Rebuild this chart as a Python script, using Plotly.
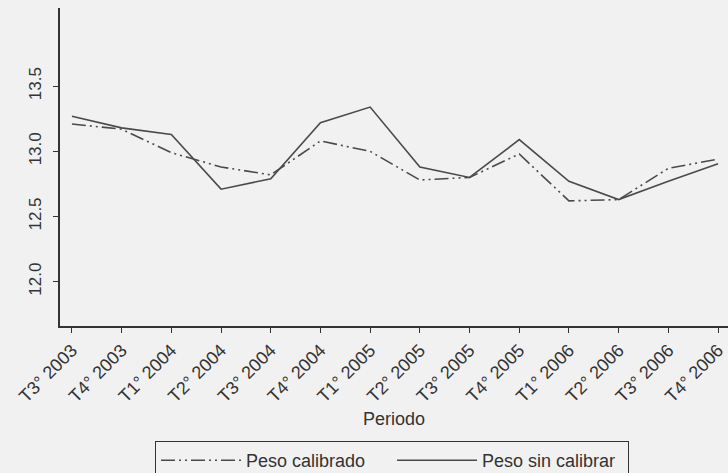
import plotly.graph_objects as go

periodos = ["T3° 2003", "T4° 2003", "T1° 2004", "T2° 2004", "T3° 2004", "T4° 2004",
            "T1° 2005", "T2° 2005", "T3° 2005", "T4° 2005", "T1° 2006", "T2° 2006",
            "T3° 2006", "T4° 2006"]
peso_calibrado = [13.21, 13.17, 12.99, 12.88, 12.82, 13.08, 13.00, 12.78, 12.80, 12.98,
                  12.62, 12.63, 12.87, 12.94]
peso_sin_calibrar = [13.27, 13.18, 13.13, 12.71, 12.79, 13.22, 13.34, 12.88, 12.80, 13.09,
                     12.77, 12.63, 12.77, 12.905]
y_ticks = [12.0, 12.5, 13.0, 13.5]

line_col = "#4a4a4a"
x_idx = list(range(len(periodos)))

fig = go.Figure()
fig.add_trace(go.Scatter(x=x_idx, y=peso_calibrado, mode="lines", name="Peso calibrado",
                         line=dict(color=line_col, width=1.6, dash="14px,4px,2px,4px,2px,4px")))
fig.add_trace(go.Scatter(x=x_idx, y=peso_sin_calibrar, mode="lines", name="Peso sin calibrar",
                         line=dict(color=line_col, width=1.6)))

font_fam = "Liberation Sans, Arial, sans-serif"
fig.update_layout(
    width=728, height=473,
    paper_bgcolor="#f1f1f1", plot_bgcolor="#f1f1f1",
    margin=dict(l=60, r=0, t=8, b=147, autoexpand=False),
    font=dict(family=font_fam, color="#333333", size=17),
    showlegend=True,
    legend=dict(orientation="h", x=155 / 728, xanchor="left", xref="container",
                y=1 - 441 / 473, yanchor="top", yref="container",
                bordercolor="#333333", borderwidth=1, bgcolor="#f1f1f1",
                font=dict(size=18), entrywidth=141, entrywidthmode="pixels",
                itemwidth=80),
)
fig.update_xaxes(
    range=[-0.24, 13.2], tickmode="array", tickvals=x_idx, ticktext=periodos,
    tickangle=-45, ticks="outside", ticklen=5, tickcolor="#333333",
    showline=True, linecolor="#333333", linewidth=1.5, showgrid=False, zeroline=False,
    tickfont=dict(size=18), automargin=False,
    title=dict(text="Periodo", font=dict(size=18), standoff=7),
)
fig.update_yaxes(
    range=[11.66, 14.10], tickmode="array", tickvals=y_ticks,
    ticktext=["12.0", "12.5", "13.0", "13.5"], tickangle=-90,
    ticks="outside", ticklen=5, tickcolor="#333333",
    showline=True, linecolor="#333333", linewidth=1.5, showgrid=False, zeroline=False,
    tickfont=dict(size=17), ticklabelstandoff=5, automargin=False,
)

fig.write_html(
    "out.html",
    config={"displayModeBar": False},
    post_script="document.body.style.margin='0';document.body.style.background='#f1f1f1';",
)
